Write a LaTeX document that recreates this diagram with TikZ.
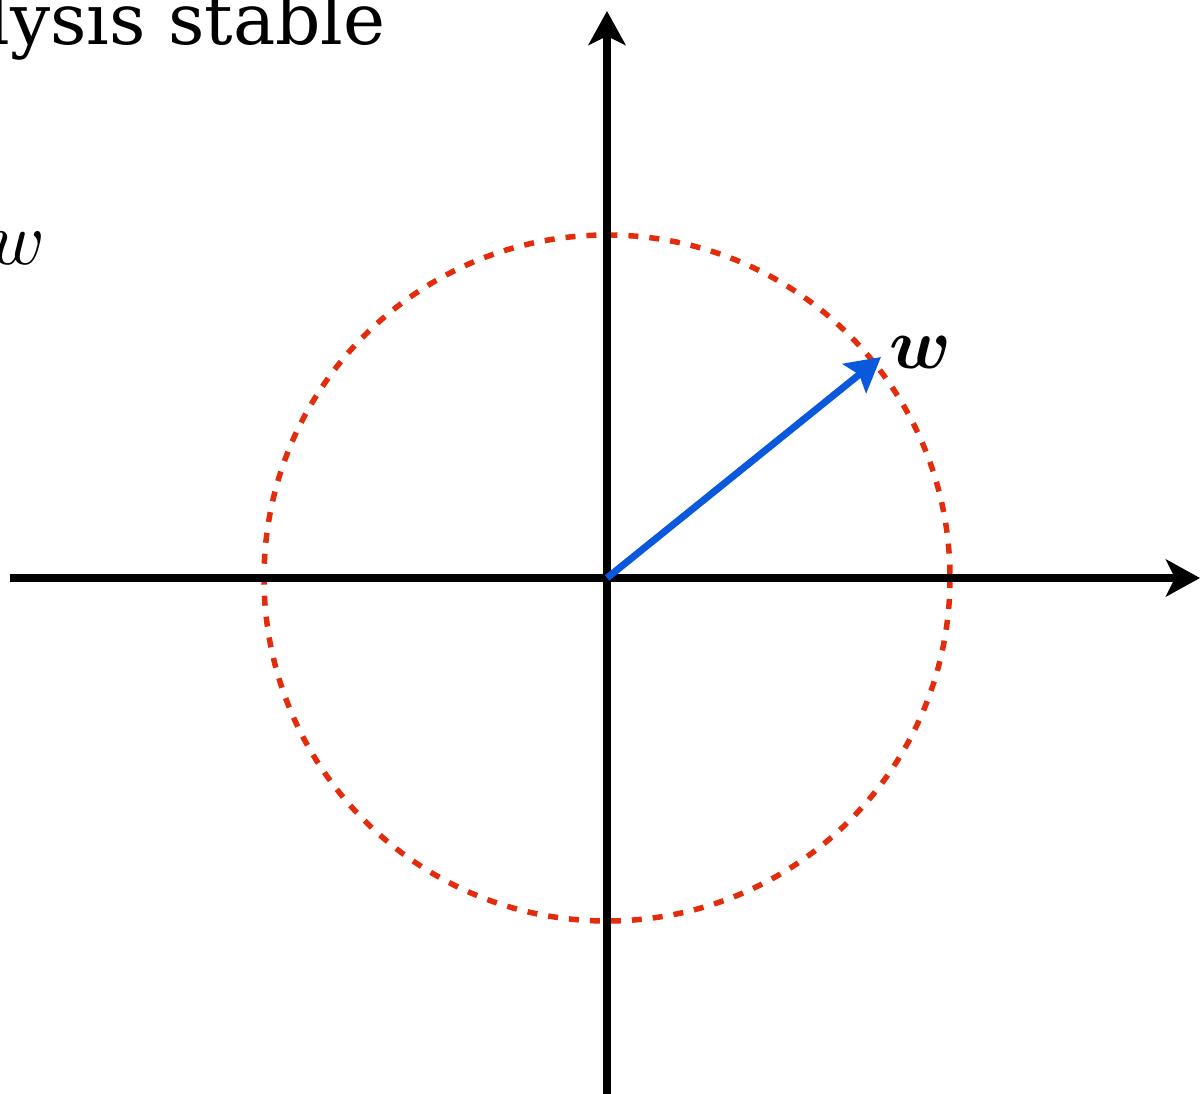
\documentclass[tikz,border=0pt]{standalone}
\usepackage{graphicx}
\usepackage{amsmath}
\usepackage{fontspec}
\setmainfont{DejaVu Serif}
\usetikzlibrary{arrows.meta}
\definecolor{circred}{HTML}{E22C0C}
\definecolor{vecblue}{HTML}{0A58DC}
\begin{document}
\begin{tikzpicture}[x=1pt,y=-1pt,
  axis/.style={line width=7.5pt,-{Stealth[length=34pt,width=37pt,inset=9pt]}},
  circ/.style={draw=circred,line width=5.5pt,dash pattern=on 10pt off 11pt},
  vec/.style={draw=vecblue,line width=7pt,-{Stealth[length=34pt,width=37pt,inset=6pt]}},
  lbl/.style={inner sep=0pt}]
\useasboundingbox (0,0) rectangle (1200,1094);
\clip (0,0) rectangle (1200,1094);
\coordinate (O) at (607,578);
\coordinate (xl) at (10,578);
\coordinate (xr) at (1200,578);
\coordinate (yb) at (607,1100);
\coordinate (yt) at (607,11);
\coordinate (W) at (881,357);
\draw[circ] (O) circle[radius=343];
\draw[axis] (xl) -- (xr);
\draw[axis] (yb) -- (yt);
\draw[vec] (O) -- (W);
\node[lbl,anchor=base east] (title) at (386,45) {\fontsize{71}{85}\selectfont Analysis stable};
\node[lbl,anchor=base east] (wl) at (45,265) {\scalebox{7.5}{$w$}};
\node[lbl] (wb) at (920,352) {\scalebox{7.2}{$\boldsymbol{w}$}};
\end{tikzpicture}
\end{document}
